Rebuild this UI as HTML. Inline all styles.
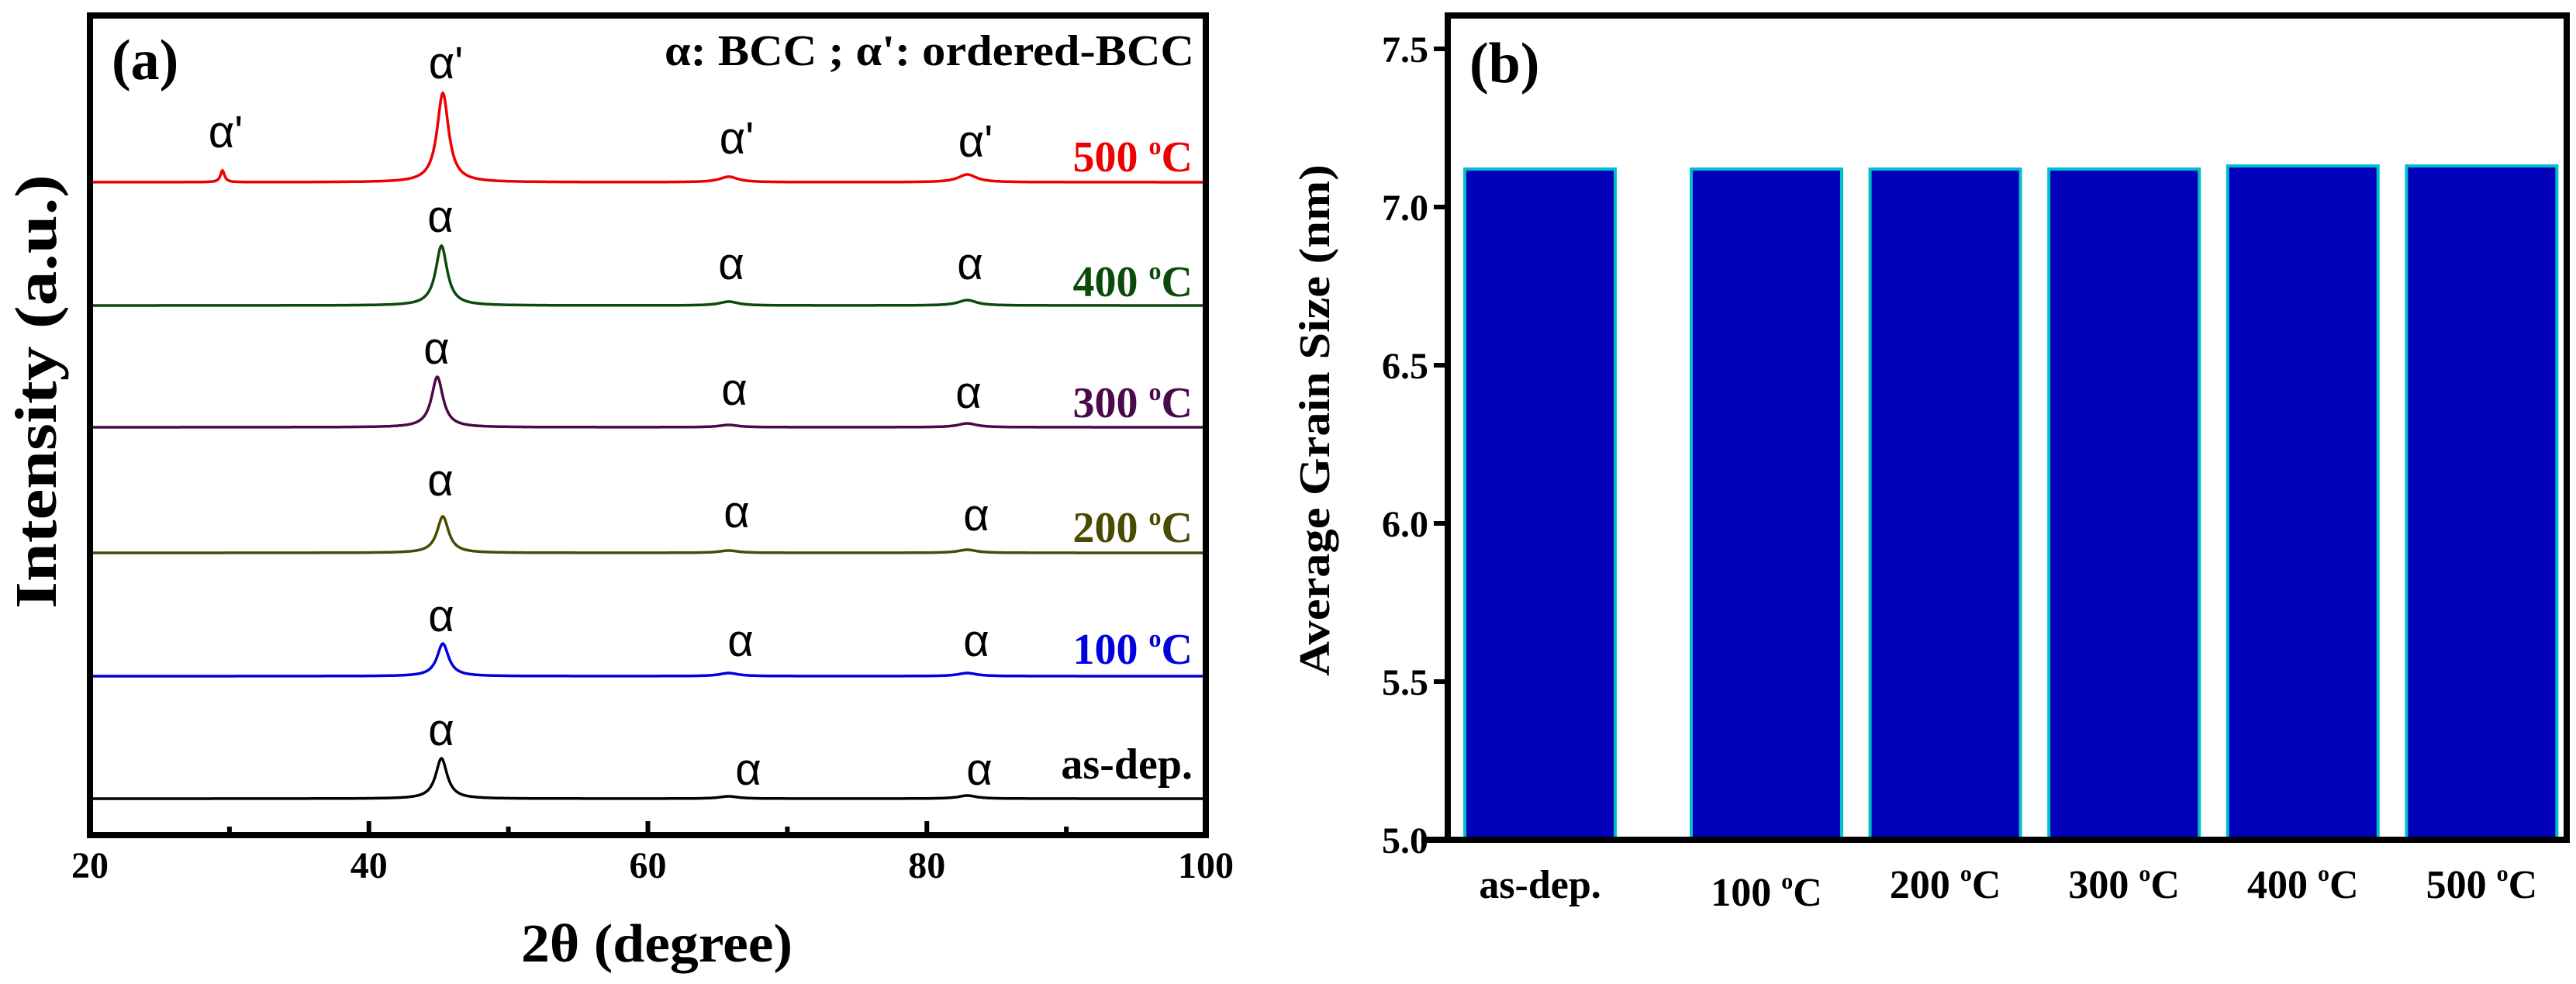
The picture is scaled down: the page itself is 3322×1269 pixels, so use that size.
<!DOCTYPE html>
<html><head><meta charset="utf-8"><style>
html,body{margin:0;padding:0;background:#fff;}
svg{display:block;}
text{font-family:"Liberation Serif",serif;font-weight:bold;}
.al{font-family:"Liberation Sans","DejaVu Sans",sans-serif;font-weight:normal;font-size:58px;}
</style></head><body>
<svg id="fig" width="3322" height="1269" viewBox="0 0 3322 1269" xmlns="http://www.w3.org/2000/svg">
<g id="pa"></g>
<g id="pb"></g>
</svg>
<script>
// ---- Panel (a) data ----
const xrdNames = ['as-dep.','100','200','300','400','500'];
const xrdColors = ['#000000','#0000dd','#4a4a00','#4a0a4a','#0a4a0a','#ee0000'];
const xrdOffsets = [47, 205, 364, 526, 683, 842];
const mainPeakPos = [45.2, 45.3, 45.3, 44.9, 45.2, 45.3];
const mainPeakHeight = [52, 42, 47, 65, 77, 115];
const peak66Height = [3, 4, 3, 3, 5, 7];
const peak83Height = [4, 4, 4, 5, 7, 10];
const peak29Height = [0, 0, 0, 0, 0, 15];
const xTicks = [20, 40, 60, 80, 100];
const xMinorTicks = [30, 50, 70, 90];
// ---- Panel (b) data ----
const barCategories = ['as-dep.','100','200','300','400','500'];
const barSlots = [-0.266, 1, 2, 3, 4, 5];
const barValues = [7.12, 7.12, 7.12, 7.12, 7.13, 7.13];
const yTicks = [5.0, 5.5, 6.0, 6.5, 7.0, 7.5];

const NS = 'http://www.w3.org/2000/svg';
function mk(tag, attrs, parent, txt) {
  const e = document.createElementNS(NS, tag);
  for (const k in attrs) e.setAttribute(k, attrs[k]);
  if (txt !== undefined) e.textContent = txt;
  parent.appendChild(e);
  return e;
}
const pa = document.getElementById('pa');
const pb = document.getElementById('pb');

// ----- Panel (a) -----
const AX0 = 116, AX1 = 1555, AY0 = 20, AY1 = 1077;
const xs = d => AX0 + (d - 20) / 80 * (AX1 - AX0);
const ys = v => AY1 - v;
function lor(x, c, w) { const t = (x - c) / (w / 2); return 1 / (1 + t * t); }

xrdNames.forEach((n, i) => {
  let d = '';
  for (let x = 20; x <= 100.0001; x += 0.05) {
    const v = xrdOffsets[i] + mainPeakHeight[i] * lor(x, mainPeakPos[i], 1.0)
      + peak66Height[i] * lor(x, 65.8, 1.6) + peak83Height[i] * lor(x, 82.9, 1.6)
      + peak29Height[i] * lor(x, 29.5, 0.35);
    d += (d ? 'L' : 'M') + xs(x).toFixed(1) + ' ' + ys(v).toFixed(1);
  }
  const p = mk('path', {d: d, fill: 'none', stroke: xrdColors[i], 'stroke-width': 3.5}, pa);
  
  
});

// frame
let fr = mk('rect', {x: AX0, y: AY0, width: AX1 - AX0, height: AY1 - AY0, fill: 'none', stroke: '#000', 'stroke-width': 8}, pa);


xTicks.forEach(t => {
  const l = mk('line', {x1: xs(t), x2: xs(t), y1: AY1, y2: AY1 - 18, stroke: '#000', 'stroke-width': 6}, pa);
  
  
  const tx = mk('text', {x: xs(t), y: AY1 + 55, 'text-anchor': 'middle', 'font-size': 48}, pa, t);
  
  
});
xMinorTicks.forEach(t => {
  const l = mk('line', {x1: xs(t), x2: xs(t), y1: AY1, y2: AY1 - 11, stroke: '#000', 'stroke-width': 6}, pa);
  
  
});
let t;
t = mk('text', {x: 847, y: 1240, 'text-anchor': 'middle', 'font-size': 70, textLength: 350, lengthAdjust: 'spacingAndGlyphs'}, pa, '2θ (degree)');
 
t = mk('text', {x: 0, y: 0, 'text-anchor': 'middle', 'font-size': 76, textLength: 560, lengthAdjust: 'spacingAndGlyphs', transform: 'translate(72,505) rotate(-90)'}, pa, 'Intensity (a.u.)');
 
t = mk('text', {x: 144, y: 102, 'font-size': 74}, pa, '(a)');
 
t = mk('text', {x: 1540, y: 84, 'text-anchor': 'end', 'font-size': 56, textLength: 683, lengthAdjust: 'spacingAndGlyphs'}, pa, "α: BCC ; α': ordered-BCC");
 

// temperature labels
const tempLabelY = [984, 836, 679, 518, 362, 201];
xrdNames.forEach((n, i) => {
  const g = mk('text', {x: 1538, y: tempLabelY[i] + 20, 'text-anchor': 'end', 'font-size': 56, fill: xrdColors[i]}, pa);
  
  
  if (i === 0) { g.textContent = 'as-dep.'; }
  else {
    mk('tspan', {}, g, n + ' ');
    mk('tspan', {dy: -22, 'font-size': 32}, g, 'o');
    mk('tspan', {dy: 22}, g, 'C');
  }
});
// peak annotations
const annX = [[569,965,1263],[569,955,1259],[568,950,1259],[563,947,1249],[568,943,1251],[575,950,1258]];
const annY = [[941,992,992],[794,826,826],[619,660,664],[449,502,506],[279,340,340],[81,178,182]];
annX.forEach((row, i) => {
  row.forEach((x, j) => {
    const s = i === 5 ? "α'" : 'α';
    const a = mk('text', {x: x, y: annY[i][j] + 20, 'text-anchor': 'middle', class: 'al'}, pa, s);
    
    
  });
});
t = mk('text', {x: 291, y: 190, 'text-anchor': 'middle', class: 'al'}, pa, "α'");
 

// ----- Panel (b) -----
const BX0 = 1867, BX1 = 3310, BY0 = 20, BY1 = 1083;
const yb = v => BY1 - (v - 5.0) / 0.5 * 204;
const xb = s => 2278 + (s - 1) * 230.6;
const BW = 194;
barValues.forEach((v, i) => {
  const r = mk('rect', {x: xb(barSlots[i]) - BW / 2, y: yb(v), width: BW, height: BY1 - yb(v), fill: '#0000bb', stroke: '#00c0c8', 'stroke-width': 4}, pb);
  
  
  const lab = mk('text', {x: xb(barSlots[i]), y: (i === 0 ? 1158 : i === 1 ? 1168 : 1158), 'text-anchor': 'middle', 'font-size': 52}, pb);
  
  
  if (i === 0) lab.textContent = 'as-dep.';
  else {
    mk('tspan', {}, lab, barCategories[i] + ' ');
    mk('tspan', {dy: -22, 'font-size': 30}, lab, 'o');
    mk('tspan', {dy: 22}, lab, 'C');
  }
});
// frame: left, bottom, top, right
[[BX0, BY0, BX0, BY1], [BX0 - 30, BY1, BX1, BY1], [BX0, BY0, BX1, BY0], [BX1, BY0, BX1, BY1]].forEach((c, k) => {
  const l = mk('line', {x1: c[0], y1: c[1], x2: c[2], y2: c[3], stroke: '#000', 'stroke-width': 8, 'stroke-linecap': 'square'}, pb);
  
  
});
yTicks.forEach(v => {
  const l = mk('line', {x1: BX0 - 18, x2: BX0, y1: yb(v), y2: yb(v), stroke: '#000', 'stroke-width': 6}, pb);
  
  
  const tx = mk('text', {x: 1842, y: yb(v) + 17, 'text-anchor': 'end', 'font-size': 48}, pb, v.toFixed(1));
  
  
});
t = mk('text', {x: 0, y: 0, 'text-anchor': 'middle', 'font-size': 56, textLength: 660, lengthAdjust: 'spacingAndGlyphs', transform: 'translate(1714,542) rotate(-90)'}, pb, 'Average Grain Size (nm)');
 
t = mk('text', {x: 1895, y: 106, 'font-size': 74}, pb, '(b)');
 
</script>
</body></html>
